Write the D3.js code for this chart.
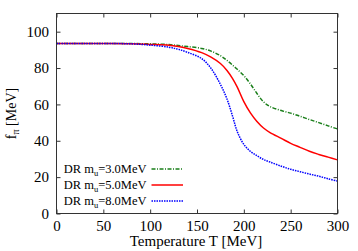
<!DOCTYPE html>
<html>
<head>
<meta charset="utf-8">
<script src="https://cdn.jsdelivr.net/npm/d3@7"></script>
<style>
  body { margin: 0; background: #fff; }
  svg { display: block; }
</style>
</head>
<body>
<svg id="chart" width="358" height="251"></svg>
<script>
// data

const temps = [0, 50, 80, 100, 120, 130, 140, 155, 165, 175, 182, 188, 193, 200, 207, 214, 221, 228, 240, 250, 260, 270, 280, 290, 300]

const fpi_m3 = [93.5, 93.5, 93.5, 93.3, 92.9, 92.4, 91.8, 90.8, 89.3, 86.8, 84.2, 81.6, 79.3, 75.8, 71.3, 66.0, 61.4, 58.8, 56.6, 55.2, 53.5, 51.7, 50.0, 48.2, 46.5]
const fpi_m5 = [93.5, 93.5, 93.4, 93.0, 92.5, 91.8, 90.8, 88.5, 86.0, 82.5, 78.7, 74.2, 69.5, 61.5, 55.3, 50.6, 47.0, 44.5, 41.3, 38.6, 36.4, 34.2, 32.5, 31.0, 29.5]
const fpi_m8 = [93.5, 93.5, 93.3, 92.6, 91.5, 90.3, 88.6, 85.2, 79.8, 71.0, 63.0, 53.5, 45.0, 38.0, 34.2, 31.8, 29.7, 28.3, 26.0, 24.3, 23.0, 21.7, 20.5, 19.1, 17.8]

const seriesNames = ['DR m_u=3.0MeV', 'DR m_u=5.0MeV', 'DR m_u=8.0MeV']
const xTicks = [0, 50, 100, 150, 200, 250, 300]
const yTicks = [0, 20, 40, 60, 80, 100]

const MARGINS = { top: 13.5, left: 56.5, bottom: 37.5, right: 20.5 }
const W = 358, H = 251
const FONT = 'Liberation Serif'

const styles = [
  { color: '#1a7f1a', dash: '4,1.5,1,1.5' },
  { color: '#ff0000', dash: null },
  { color: '#0000ff', dash: '1.5,1' }
]

const series = [fpi_m3, fpi_m5, fpi_m8].map( (vals, i) => ({
  name: seriesNames[i],
  points: temps.map( (t, j) => [t, vals[j]] )
}))

const width = W - MARGINS.left - MARGINS.right
const height = H - MARGINS.top - MARGINS.bottom

const svg = d3.select('#chart').attr('font-family', FONT)
const g = svg.append('g').attr('transform', 'translate(' + [MARGINS.left, MARGINS.top] + ')')

const x = d3.scaleLinear().domain([0, 300]).range([0, width])
const y = d3.scaleLinear().domain([0, 110]).range([height, 0])

const line = d3.line()
  .x( (d) => x(d[0]) )
  .y( (d) => y(d[1]) )
  .curve(d3.curveCatmullRom.alpha(0.5))

// curves
g.append('g').selectAll('path')
  .data(series)
  .join('path')
    .attr('fill', 'none')
    .attr('stroke', (d, i) => styles[i].color)
    .attr('stroke-width', 1.5)
    .attr('stroke-dasharray', (d, i) => styles[i].dash)
    .attr('d', (d) => line(d.points))

// axes, ticks inward on all sides
const TICK = 4
const frame = '#333'

const axBottom = g.append('g').attr('transform', 'translate(0,' + height + ')')
  .call(d3.axisBottom(x).tickValues(xTicks).tickSize(-TICK).tickPadding(7))
const axLeft = g.append('g')
  .call(d3.axisLeft(y).tickValues(yTicks).tickSize(-TICK).tickPadding(7.5))
const axTop = g.append('g')
  .call(d3.axisTop(x).tickValues(xTicks).tickSize(-TICK).tickFormat(''))
const axRight = g.append('g').attr('transform', 'translate(' + width + ',0)')
  .call(d3.axisRight(y).tickValues(yTicks).tickSize(-TICK).tickFormat(''))

;[axBottom, axLeft, axTop, axRight].forEach( (a) => {
  a.select('.domain').remove()
  a.attr('font-family', FONT).attr('font-size', 15)
  a.selectAll('line').attr('stroke', frame)
  a.selectAll('text').attr('fill', '#000')
})

g.append('rect')
  .attr('width', width).attr('height', height)
  .attr('fill', 'none').attr('stroke', frame).attr('stroke-width', 1)

// axis titles
svg.append('text')
  .attr('x', MARGINS.left + width / 2 - 1)
  .attr('y', 246)
  .attr('text-anchor', 'middle')
  .attr('font-size', 15)
  .text('Temperature T [MeV]')

const ylab = svg.append('text')
  .attr('transform', 'translate(16,' + (MARGINS.top + height / 2) + ') rotate(-90)')
  .attr('text-anchor', 'middle')
  .attr('font-size', 14)
ylab.append('tspan').text('f')
ylab.append('tspan').attr('dy', 3).attr('font-size', 10).text('π')
ylab.append('tspan').attr('dy', -3).text(' [MeV]')

// legend
const legend = g.append('g')
  .selectAll('g')
  .data(series)
  .join('g')
    .attr('transform', (d, i) => 'translate(0,' + (169 - MARGINS.top + i * 16) + ')')

legend.append('line')
  .attr('x1', 151.5 - MARGINS.left).attr('x2', 183 - MARGINS.left)
  .attr('stroke', (d, i) => styles[i].color)
  .attr('stroke-width', 1.5)
  .attr('stroke-dasharray', (d, i) => styles[i].dash)

const lt = legend.append('text')
  .attr('x', 146.5 - MARGINS.left)
  .attr('dy', '0.32em')
  .attr('text-anchor', 'end')
  .attr('font-size', 12.5)
lt.append('tspan').text( (d) => d.name.split('m_u')[0] + 'm' )
lt.append('tspan').attr('dy', 2.5).attr('font-size', 8.5).text('u')
lt.append('tspan').attr('dy', -2.5).text( (d) => d.name.split('m_u')[1] )
</script>
</body>
</html>
